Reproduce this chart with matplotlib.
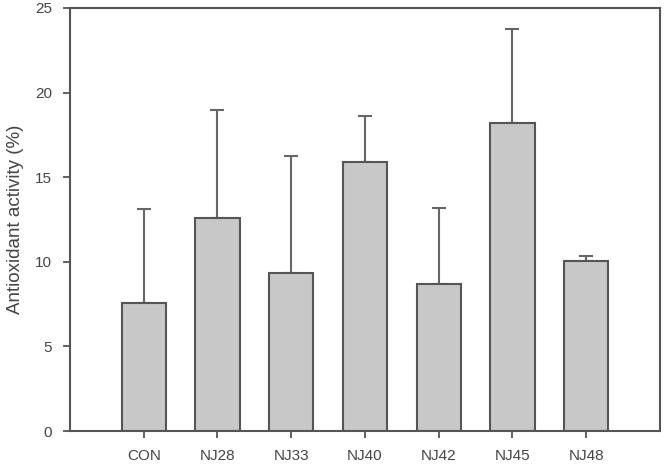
import matplotlib
matplotlib.use("Agg")
import matplotlib.pyplot as plt

categories = ["CON", "NJ28", "NJ33", "NJ40", "NJ42", "NJ45", "NJ48"]
values = [7.58, 12.56, 9.33, 15.89, 8.68, 18.21, 10.04]
errors = [5.52, 6.40, 6.91, 2.71, 4.47, 5.52, 0.32]
yticks = [0, 5, 10, 15, 20, 25]

plt.rcParams['font.family'] = ['Liberation Sans', 'DejaVu Sans']
fig = plt.figure(figsize=(6.66, 4.65), dpi=100)
ax = fig.add_axes([0.105, 0.073, 0.886, 0.910])

x = list(range(1, len(categories) + 1))
ax.bar(x, values, width=0.6, color="#c8c8c8", edgecolor="#555555", linewidth=1.5, zorder=2)
ax.errorbar(x, values, yerr=[[0]*len(errors), errors], fmt="none", ecolor="#666666",
            elinewidth=1.5, capsize=5, capthick=1.5, zorder=1)

ax.set_xlim(0, 8)
ax.set_ylim(0, 25)
ax.set_xticks(x)
ax.set_xticklabels(categories)
ax.set_yticks(yticks)
ax.tick_params(axis='both', direction='out', length=5, width=1.3, color="#555555",
               labelcolor="#444444", labelsize=11, top=False, right=False)
ax.tick_params(axis='x', pad=8)
ax.tick_params(axis='y', pad=8)
for s in ax.spines.values():
    s.set_color("#555555")
    s.set_linewidth(1.5)
ax.set_ylabel("Antioxidant activity (%)", fontsize=13.5, color="#444444", labelpad=8)

fig.savefig("out.png", dpi=100)
